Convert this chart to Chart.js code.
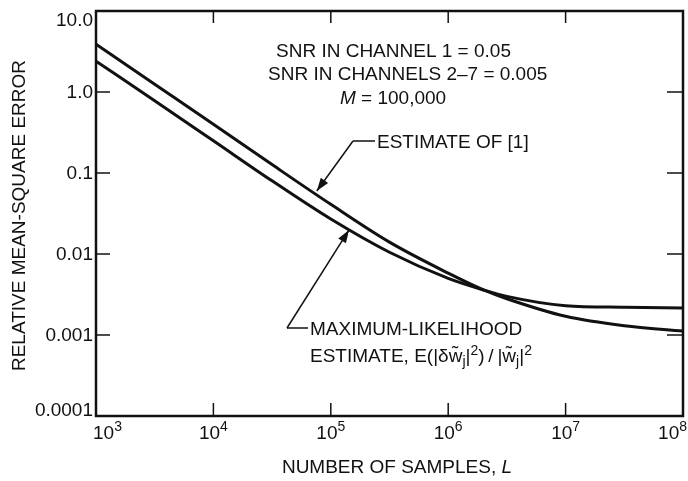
<!DOCTYPE html>
<html>
<head>
<meta charset="utf-8">
<script src="https://cdn.jsdelivr.net/npm/chart.js@4.4.1/dist/chart.umd.min.js"></script>
<style>
  body { margin: 0; background: #fff; }
  #wrap { width: 688px; height: 481px; }
</style>
</head>
<body>
<div id="wrap"><canvas id="graph1" width="688" height="481"></canvas></div>
<script>
// number of samples L
const samples = [1e3, 3.16e3, 1e4, 3.16e4, 1e5, 3.16e5, 1e6, 2e6, 3.16e6, 1e7, 3.16e7, 1e8];
// relative mean-square error
const estimateOf1 = [3.9, 1.25, 0.40, 0.127, 0.041, 0.014, 0.0058, 0.0036, 0.0028, 0.0017, 0.0013, 0.00112];
const maxLikelihood = [2.4, 0.78, 0.25, 0.08, 0.027, 0.0105, 0.0050, 0.0036, 0.0030, 0.0023, 0.0022, 0.00215];

const xTicks = [1e3, 1e4, 1e5, 1e6, 1e7, 1e8];
const xTickExp = ['3', '4', '5', '6', '7', '8'];
const yTicks = [10, 1, 0.1, 0.01, 0.001, 0.0001];
const yTickLabels = ['10.0', '1.0', '0.1', '0.01', '0.001', '0.0001'];

const INK = '#111';
const FONT = '"Liberation Sans", Arial, Helvetica, sans-serif';
const FS = 19;

function pts(xs, ys) {
  return xs.map((v, i) => ({ x: v, y: ys[i] }));
}

function line(ctx, x1, y1, x2, y2) {
  ctx.beginPath();
  ctx.moveTo(x1, y1);
  ctx.lineTo(x2, y2);
  ctx.stroke();
}

// text pieces side by side, each may be smaller / raised / italic
function runsWidth(ctx, runs) {
  let w = 0;
  runs.forEach(r => {
    ctx.font = (r.italic ? 'italic ' : '') + (r.size || FS) + 'px ' + FONT;
    w += ctx.measureText(r.t).width;
  });
  return w;
}
function drawRuns(ctx, x, y, runs) {
  ctx.textAlign = 'left';
  ctx.textBaseline = 'alphabetic';
  runs.forEach(r => {
    ctx.font = (r.italic ? 'italic ' : '') + (r.size || FS) + 'px ' + FONT;
    ctx.fillText(r.t, x, y + (r.dy || 0));
    x += ctx.measureText(r.t).width;
  });
}

function arrow(ctx, fx, fy, tx, ty) {
  line(ctx, fx, fy, tx, ty);
  const ang = Math.atan2(ty - fy, tx - fx);
  const len = 13, half = 4.5;
  ctx.beginPath();
  ctx.moveTo(tx, ty);
  ctx.lineTo(tx - len * Math.cos(ang) + half * Math.sin(ang), ty - len * Math.sin(ang) - half * Math.cos(ang));
  ctx.lineTo(tx - len * Math.cos(ang) - half * Math.sin(ang), ty - len * Math.sin(ang) + half * Math.cos(ang));
  ctx.closePath();
  ctx.fill();
}

const frame = {
  id: 'frame',
  afterDraw(chart) {
    const ctx = chart.ctx;
    const a = chart.chartArea;
    const x = chart.scales.x, y = chart.scales.y;
    ctx.save();
    ctx.strokeStyle = INK;
    ctx.fillStyle = INK;

    // box
    ctx.lineWidth = 2.5;
    ctx.strokeRect(a.left, a.top, a.right - a.left, a.bottom - a.top);

    // inward ticks
    ctx.lineWidth = 1.5;
    yTicks.forEach(v => {
      const py = y.getPixelForValue(v);
      if (py > a.top + 3 && py < a.bottom - 3) {
        line(ctx, a.left, py, a.left + 14, py);
        line(ctx, a.right - 16, py, a.right, py);
      }
    });
    xTicks.forEach(v => {
      const px = x.getPixelForValue(v);
      if (px > a.left + 3 && px < a.right - 3) {
        line(ctx, px, a.bottom, px, a.bottom - 13);
        line(ctx, px, a.top, px, a.top + 12);
      }
    });

    // y tick labels
    ctx.font = FS + 'px ' + FONT;
    ctx.textAlign = 'right';
    ctx.textBaseline = 'middle';
    yTicks.forEach((v, i) => {
      let py = y.getPixelForValue(v);
      py = Math.min(Math.max(py, a.top + 9), a.bottom - 6);
      ctx.fillText(yTickLabels[i], a.left - 3, py + 1);
    });

    // x tick labels 10^n
    xTicks.forEach((v, i) => {
      const px = x.getPixelForValue(v);
      const runs = [{ t: '10' }, { t: xTickExp[i], size: 14, dy: -8 }];
      const w = runsWidth(ctx, runs);
      let left = px - w / 2;
      if (i === 0) left = px - 3;
      if (i === xTicks.length - 1) left = px + 4 - w;
      drawRuns(ctx, left, a.bottom + 23, runs);
    });

    // axis titles
    const xt = [{ t: 'NUMBER OF SAMPLES, ' }, { t: 'L', italic: true }];
    drawRuns(ctx, 397 - runsWidth(ctx, xt) / 2, 473, xt);

    ctx.save();
    ctx.translate(25, (a.top + a.bottom) / 2 + 2);
    ctx.rotate(-Math.PI / 2);
    ctx.font = FS + 'px ' + FONT;
    ctx.textAlign = 'center';
    ctx.textBaseline = 'alphabetic';
    ctx.fillText('RELATIVE MEAN-SQUARE ERROR', 0, 0);
    ctx.restore();

    // parameter block
    drawRuns(ctx, 276, 57, [{ t: 'SNR IN CHANNEL 1 = 0.05' }]);
    drawRuns(ctx, 268, 80, [{ t: 'SNR IN CHANNELS 2\u20137 = 0.005' }]);
    drawRuns(ctx, 340, 104, [{ t: 'M', italic: true }, { t: ' = 100,000' }]);

    // estimate of [1] label + arrow
    ctx.lineWidth = 1.5;
    const t1x = x.getPixelForValue(7.6e4), t1y = y.getPixelForValue(0.06);
    line(ctx, 353, 141, 375, 141);
    arrow(ctx, 353, 141, t1x, t1y);
    drawRuns(ctx, 377, 148, [{ t: 'ESTIMATE OF [1]' }]);

    // maximum-likelihood label + arrow
    const t2x = x.getPixelForValue(1.43e5), t2y = y.getPixelForValue(0.0198);
    line(ctx, 287, 328, 308, 328);
    arrow(ctx, 287, 328, t2x, t2y);
    drawRuns(ctx, 310, 335, [{ t: 'MAXIMUM-LIKELIHOOD' }]);
    drawRuns(ctx, 310, 362, [
      { t: 'ESTIMATE, E(|\u03B4w\u0303' },
      { t: 'j', size: 14, dy: 4 },
      { t: '|' },
      { t: '2', size: 14, dy: -7 },
      { t: ')\u2009/\u2009|w\u0303' },
      { t: 'j', size: 14, dy: 4 },
      { t: '|' },
      { t: '2', size: 14, dy: -7 }
    ]);

    ctx.restore();
  }
};

const hiddenAxis = {
  ticks: { display: false },
  grid: { display: false },
  border: { display: false }
};

const ctx1 = document.getElementById('graph1').getContext('2d');
new Chart(ctx1, {
  type: 'line',
  data: {
    datasets: [{
      label: 'Estimate of [1]',
      data: pts(samples, estimateOf1),
      borderColor: INK,
      borderWidth: 3,
      pointRadius: 0,
      cubicInterpolationMode: 'monotone',
      fill: false
    }, {
      label: 'Maximum-likelihood estimate',
      data: pts(samples, maxLikelihood),
      borderColor: INK,
      borderWidth: 3,
      pointRadius: 0,
      cubicInterpolationMode: 'monotone',
      fill: false
    }]
  },
  options: {
    responsive: false,
    animation: false,
    layout: { padding: { left: 96, top: 11, right: 5, bottom: 65 } },
    plugins: { legend: { display: false }, tooltip: { enabled: false } },
    scales: {
      x: Object.assign({
        type: 'logarithmic', min: 1e3, max: 1e8,
        afterFit: s => { s.height = 0; }
      }, hiddenAxis),
      y: Object.assign({
        type: 'logarithmic', min: 1e-4, max: 10,
        afterFit: s => { s.width = 0; }
      }, hiddenAxis)
    }
  },
  plugins: [frame]
});
</script>
</body>
</html>
